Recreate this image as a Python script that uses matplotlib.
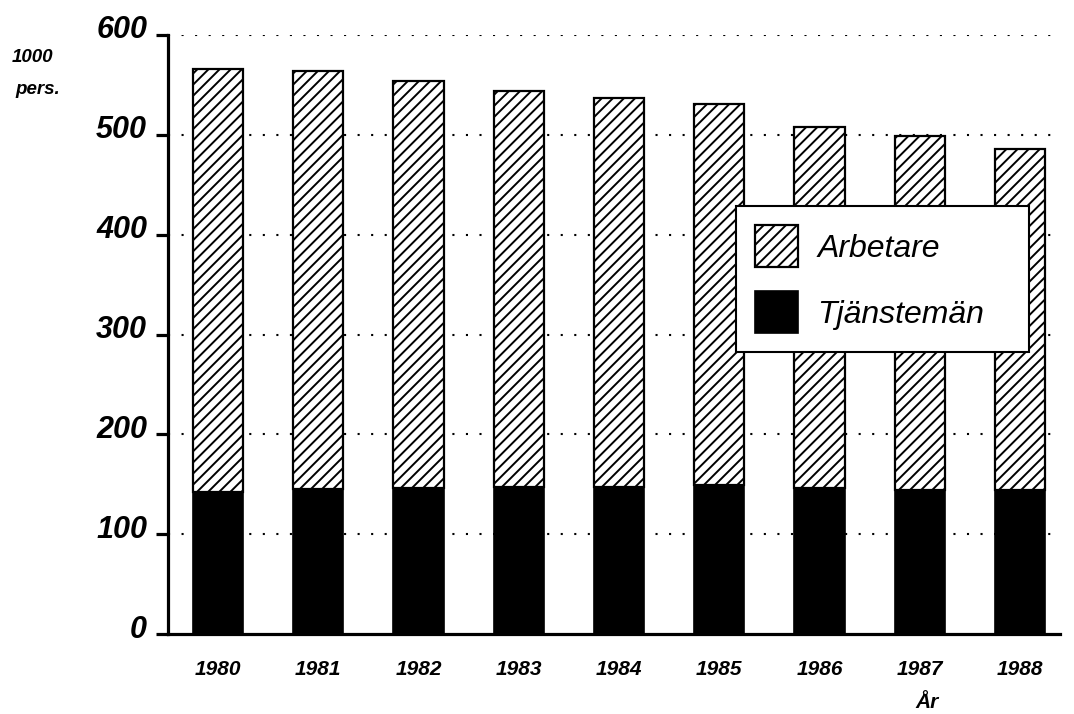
import numpy as np
import matplotlib
matplotlib.use('Agg')
import matplotlib.pyplot as plt
import matplotlib.transforms as mtransforms

plt.rcParams['font.family'] = ['Liberation Sans', 'DejaVu Sans']
plt.rcParams['hatch.linewidth'] = 1.4

years = ['1980', '1981', '1982', '1983', '1984', '1985', '1986', '1987', '1988']
tjanstemän = [142, 145, 146, 147, 147, 149, 146, 144, 144]
totalt = [566, 564, 554, 544, 537, 531, 508, 499, 486]
arbetare = [t - s for t, s in zip(totalt, tjanstemän)]
yticks = [0, 100, 200, 300, 400, 500, 600]

fig = plt.figure(figsize=(10.74, 7.14), dpi=100)
fig.subplots_adjust(left=0.1564, right=0.987, top=0.951, bottom=0.112)
ax = fig.add_subplot(111)

x = np.arange(len(years))
b1 = ax.bar(x, tjanstemän, width=0.5, color='black', edgecolor='black',
            linewidth=1.2, label='Tjänstemän', zorder=3)
b2 = ax.bar(x, arbetare, width=0.5, bottom=tjanstemän, color='white',
            edgecolor='black', hatch='///', linewidth=1.6, label='Arbetare', zorder=3)

ax.set_xlim(-0.5, 8.4)
ax.set_ylim(0, 600)
ax.set_yticks(yticks)
ax.set_xticks(x)
ax.set_xticklabels(years, fontsize=15, fontweight='bold', fontstyle='italic')
ax.set_yticklabels([str(v) for v in yticks], fontsize=22, fontweight='bold', fontstyle='italic')

for v in yticks[1:]:
    ax.axhline(v, color='black', linestyle=(0, (1, 5.5)), linewidth=1.5, zorder=1)

ax.spines['right'].set_visible(False)
ax.spines['top'].set_visible(False)
ax.spines['left'].set_linewidth(2.3)
ax.spines['bottom'].set_linewidth(2.3)
ax.tick_params(axis='y', length=9, width=2.3, pad=6, direction='out')
ax.tick_params(axis='x', length=0, pad=19)

# y-etiketter lite ovanför strecken
off = mtransforms.ScaledTranslation(0, 8 / 100, fig.dpi_scale_trans)
for lab in ax.get_yticklabels():
    lab.set_transform(lab.get_transform() + off)

fig.text(32 / 1074, 1 - 57 / 714, '1000', fontsize=13.5, fontweight='bold',
         fontstyle='italic', ha='center', va='center')
fig.text(38 / 1074, 1 - 89 / 714, 'pers.', fontsize=13.5, fontweight='bold',
         fontstyle='italic', ha='center', va='center')
fig.text(927 / 1074, 1 - 703 / 714, 'År', fontsize=15, fontweight='bold',
         fontstyle='italic', ha='center', va='center')

leg = ax.legend(handles=[b2, b1], loc='upper left',
                bbox_to_anchor=(736 / 1074, 1 - 353 / 714, 293 / 1074, 147 / 714),
                bbox_transform=fig.transFigure, mode='expand',
                borderaxespad=0, fancybox=False, framealpha=1, edgecolor='black',
                prop={'size': 23, 'style': 'italic'}, handlelength=1.35, handleheight=1.65,
                labelspacing=0.75, borderpad=0.6, handletextpad=0.6)
leg.get_frame().set_linewidth(1.5)
leg.set_zorder(5)

fig.savefig('out.png', dpi=100)
